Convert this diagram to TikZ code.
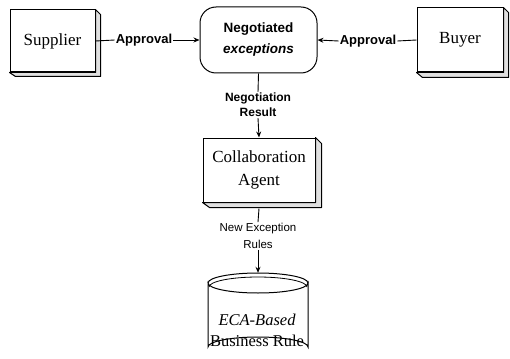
\documentclass[tikz,border=0pt]{standalone}
\usepackage{fontspec}
\setmainfont{Liberation Serif}
\newfontfamily\arialfont{Liberation Sans}
\usetikzlibrary{arrows.meta}

\begin{document}
\begin{tikzpicture}[x=1pt,y=-1pt,
  face/.style={draw,line width=1pt,fill=white,inner sep=0pt,align=center,
    font=\fontsize{17}{23}\selectfont},
  depthband/.style={draw,line width=1pt,fill=black!12,line join=round},
  lbl/.style={inner sep=1pt,align=center,font=\arialfont\bfseries\fontsize{13}{15}\selectfont},
  link/.style={line width=0.9pt},
  arr/.style={line width=0.9pt,-{Stealth[length=6pt,width=5pt]}},
]
\useasboundingbox (0,0) rectangle (510,358);

% three-dimensional boxes: front face plus an L-shaped depth band
\node[face,minimum width=85pt,minimum height=62pt] (sup) at (52.5,41) {Supplier};
\draw[depthband] (sup.north east) -- ++(5,5) -- ++(0,62) -- ++(-85,0) -- (sup.south west) -- (sup.south east) -- cycle;

\node[face,minimum width=86pt,minimum height=64pt] (buy) at (460,40) {Buyer};
\draw[depthband] (buy.north east) -- ++(5,5) -- ++(0,65) -- ++(-86,0) -- (buy.south west) -- (buy.south east) -- cycle;

\node[face,minimum width=112pt,minimum height=64pt] (col) at (259,170) {Collaboration\\Agent};
\draw[depthband] (col.north east) -- ++(6,6) -- ++(0,64) -- ++(-112,0) -- (col.south west) -- (col.south east) -- cycle;

% negotiation hub
\node[draw,line width=1pt,rounded corners=16pt,minimum width=117pt,minimum height=66pt,
  inner sep=0pt,align=center,font=\arialfont\bfseries\fontsize{13.5}{21}\selectfont]
  (neg) at (258.5,40) {Negotiated\\\itshape exceptions};

% rule store drawn as a cylinder
\node[minimum width=100pt,minimum height=84pt,inner sep=0pt] (db) at (258,315) {};
\draw[line width=1pt,fill=white]
  (208,283) arc[start angle=180,end angle=0,x radius=50,y radius=10]
  -- (308,347) arc[start angle=0,end angle=-180,x radius=50,y radius=10] -- cycle;
\draw[line width=1pt] (208,283) arc[start angle=180,end angle=360,x radius=50,y radius=10];
\draw[line width=0.8pt] (209,287) arc[start angle=180,end angle=360,x radius=49,y radius=10];
\node[inner sep=0pt,align=center,font=\fontsize{16.5}{21}\selectfont] (dbtext) at (257,330)
  {\itshape ECA-Based\\Business Rule};

% labels
\node[lbl] (ap1) at (144,40) {Approval};
\node[lbl] (ap2) at (368,41) {Approval};
\node[lbl,font=\arialfont\bfseries\fontsize{12}{15}\selectfont] (nr) at (258,105) {Negotiation\\Result};
\node[lbl,font=\arialfont\fontsize{11.5}{17}\selectfont] (ne) at (258,236) {New Exception\\Rules};

% connectors
\draw[link] (sup.east) -- (ap1.west);
\draw[arr] (ap1.east) -- (neg.west);
\draw[link] (buy.west) -- (ap2.east);
\draw[arr] (ap2.west) -- (neg.east);
\draw[link] (neg.south) -- (nr.north);
\draw[arr] (nr.south) -- (col.north);
\draw[link] (col.south) ++(0,6) -- (ne.north);
\draw[arr] (ne.south) -- (db.north);
\end{tikzpicture}
\end{document}
